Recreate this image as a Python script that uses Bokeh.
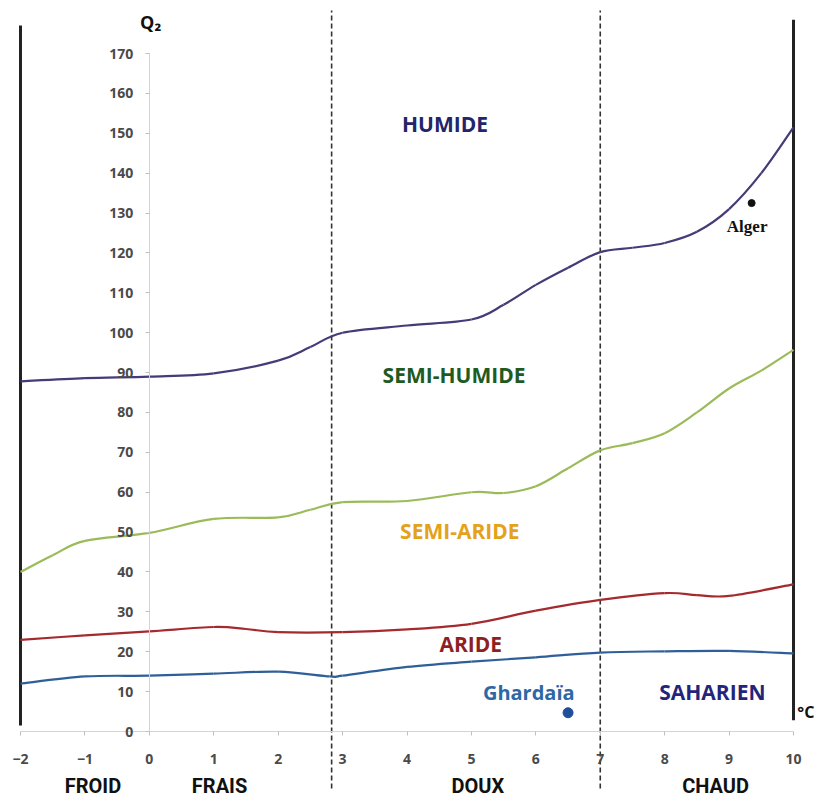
import numpy as np
from bokeh.plotting import figure
from bokeh.models import LinearAxis, FixedTicker, Range1d
from bokeh.core.properties import value
from bokeh.embed import file_html
from bokeh.resources import INLINE

# ---- data ----
humide_x = [-2, -1, 0, 1, 2, 2.5, 3, 4, 5, 5.5, 6, 6.5, 7, 7.5, 8, 8.5, 9, 9.5, 10]
humide_y = [87.8, 88.6, 89, 89.8, 93, 96.4, 100, 101.8, 103.3, 107, 112, 116.3, 120.2, 121.3, 122.5, 125.3, 131, 140, 151.5]

semi_x = [-2, -1.5, -1, 0, 1, 2, 2.5, 3, 4, 5, 5.5, 6, 6.5, 7, 7.5, 8, 8.5, 9, 9.5, 10]
semi_y = [40, 44.2, 47.8, 49.8, 53.3, 53.7, 55.6, 57.5, 57.8, 60, 59.8, 61.5, 66, 70.5, 72.3, 74.8, 80, 86, 90.5, 95.7]

aride_x = [-2, -1, 0, 1, 1.5, 2, 3, 4, 5, 6, 7, 8, 8.5, 9, 10]
aride_y = [23, 24.1, 25.1, 26.2, 25.7, 24.9, 24.9, 25.6, 27, 30.3, 33, 34.7, 34.2, 34, 36.9]

sahara_x = [-2, -1, 0, 1, 2, 2.8, 3, 4, 5, 6, 7, 8, 9, 10]
sahara_y = [12, 13.8, 14, 14.5, 15, 13.8, 14.0, 16.2, 17.5, 18.6, 19.8, 20.1, 20.2, 19.6]

stations = ["Alger", "Ghardaïa"]
station_x = [9.35, 6.5]
station_y = [132.5, 4.7]

x_ticks = list(range(-2, 11))
y_ticks = list(range(0, 171, 10))

zone_labels = ["HUMIDE", "SEMI-HUMIDE", "SEMI-ARIDE", "ARIDE", "SAHARIEN"]
zone_x = [4.59, 4.73, 4.82, 4.99, 8.74]
zone_y = [152.3, 89.3, 50.4, 22.0, 9.9]
zone_colors = ["#23246a", "#1f5a1f", "#e3a21a", "#8e1f22", "#24257a"]

winter_labels = ["FROID", "FRAIS", "DOUX", "CHAUD"]
winter_x = [-0.875, 1.09, 5.10, 8.79]

dash_x = [2.83, 7]
frame_x = [-2, 10]


def smooth(xs, ys):
    """Catmull-Rom control points for a bezier path through the given points."""
    x = np.asarray(xs, float)
    y = np.asarray(ys, float)
    xp = np.concatenate([[x[0]], x, [x[-1]]])
    yp = np.concatenate([[y[0]], y, [y[-1]]])
    n = len(x) - 1
    cx0 = x[:-1] + (xp[2:n + 2] - xp[0:n]) / 6
    cy0 = y[:-1] + (yp[2:n + 2] - yp[0:n]) / 6
    cx1 = x[1:] - (xp[3:n + 3] - xp[1:n + 1]) / 6
    cy1 = y[1:] - (yp[3:n + 3] - yp[1:n + 1]) / 6
    return dict(x0=x[:-1], y0=y[:-1], x1=x[1:], y1=y[1:],
                cx0=cx0, cy0=cy0, cx1=cx1, cy1=cy1)


# ---- figure ----
p = figure(width=820, height=800, output_backend="svg", toolbar_location=None,
           x_range=Range1d(-2.3105, 10.419), y_range=Range1d(-17.3, 183.3),
           x_axis_location=None, y_axis_location=None, min_border=0)
p.outline_line_color = None
p.xgrid.visible = False
p.ygrid.visible = False
p.background_fill_color = "white"
p.border_fill_color = "white"

yax = LinearAxis(ticker=FixedTicker(ticks=y_ticks), fixed_location=0, bounds=(0, 170))
yax.axis_line_color = "#d4d4d4"
yax.major_tick_line_color = "#c0c0c0"
yax.major_tick_out = 4
yax.major_tick_in = 0
yax.minor_tick_line_color = None
yax.major_label_standoff = 12
yax.major_label_text_font = "Open Sans"
yax.major_label_text_font_size = "14px"
yax.major_label_text_font_style = "bold"
yax.major_label_text_color = "#4a4a4a"
p.add_layout(yax, "left")

xax = LinearAxis(ticker=FixedTicker(ticks=x_ticks), fixed_location=0, bounds=(-2, 10))
xax.axis_line_color = "#d4d4d4"
xax.major_tick_line_color = "#c0c0c0"
xax.major_tick_out = 4
xax.major_tick_in = 0
xax.minor_tick_line_color = None
xax.major_label_standoff = 18
xax.major_label_text_font = "Open Sans"
xax.major_label_text_font_size = "14px"
xax.major_label_text_font_style = "bold"
xax.major_label_text_color = "#4a4a4a"
p.add_layout(xax, "below")

# frame verticals
p.segment(x0=frame_x, y0=[1.5, 2.8], x1=frame_x, y1=[177, 178.5],
          line_color="#222222", line_width=3)
p.segment(x0=dash_x, y0=[-14.3, -14.3], x1=dash_x, y1=[180.8, 180.8],
          line_color="#333333", line_width=1.6, line_dash="5 3")

# curves
for xs, ys, col in [(humide_x, humide_y, "#463a78"), (semi_x, semi_y, "#9bbb59"),
                    (aride_x, aride_y, "#a52a2e"), (sahara_x, sahara_y, "#2f5f98")]:
    p.bezier(line_color=col, line_width=2.2, **smooth(xs, ys))

# stations
p.scatter(station_x[:1], station_y[:1], size=7, color="#111111")
p.scatter(station_x[1:], station_y[1:], size=10, color="#1f4e9a")
p.text(x=[9.28], y=[126.6], text=[stations[0]], text_font=value("Liberation Serif"),
       text_font_style="bold", text_font_size="17px", text_color="#111111",
       text_align="center", text_baseline="middle")
p.text(x=[5.89], y=[9.9], text=[stations[1]], text_font=value("Open Sans"),
       text_font_style="bold", text_font_size="20px", text_color="#2e67a6",
       text_align="center", text_baseline="middle")

# zone labels
p.text(x=zone_x, y=zone_y, text=zone_labels, text_font=value("Open Sans"),
       text_font_style="bold", text_font_size="21px", text_color=zone_colors,
       text_align="center", text_baseline="middle")

# temperature classes
p.text(x=winter_x, y=[-13.6] * 4, text=winter_labels,
       text_font=value("Roboto"), text_font_style="bold", text_font_size="20px",
       text_color="#111111", text_align="center", text_baseline="middle")

# axis titles
p.text(x=[0.02], y=[177.8], text=["Q₂"], text_font=value("Open Sans"),
       text_font_style="bold", text_font_size="18px", text_color="#111111",
       text_align="center", text_baseline="middle")
p.text(x=[10.06], y=[4.8], text=["°C"], text_font=value("Open Sans"),
       text_font_style="bold", text_font_size="16px", text_color="#111111",
       text_align="left", text_baseline="middle")

open("out.html", "w").write(file_html(p, INLINE))
